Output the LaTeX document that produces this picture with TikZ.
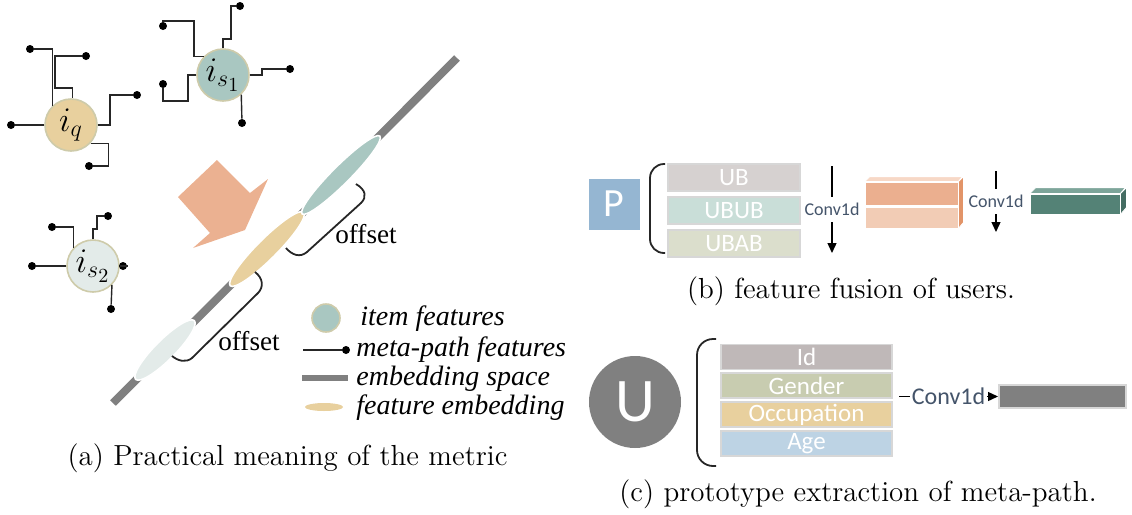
\documentclass[tikz,border=0pt]{standalone}
\usepackage{amsmath,amssymb}
\usepackage{fontspec}
\usepackage{tikz}
\usetikzlibrary{positioning}
\usetikzlibrary{shapes.geometric}
\usetikzlibrary{arrows.meta}
\newfontfamily\calibri{Carlito}
\newfontfamily\timesrm{Liberation Serif}

\definecolor{itemteal}{RGB}{169,199,193}
\definecolor{tanfill}{RGB}{232,208,158}
\definecolor{palefill}{RGB}{227,235,233}
\definecolor{rimcol}{RGB}{206,203,170}
\definecolor{salmon}{RGB}{235,177,145}
\definecolor{spacegray}{RGB}{128,128,128}
\definecolor{pblue}{RGB}{149,182,210}
\definecolor{ubfill}{RGB}{214,209,208}
\definecolor{ububfill}{RGB}{201,222,216}
\definecolor{ubabfill}{RGB}{219,222,204}
\definecolor{boxrim}{RGB}{215,215,215}
\definecolor{convtext}{RGB}{68,84,106}
\definecolor{peachdark}{RGB}{235,175,143}
\definecolor{peachlight}{RGB}{242,204,181}
\definecolor{peachtop}{RGB}{247,216,198}
\definecolor{peachside}{RGB}{226,148,104}
\definecolor{tealfront}{RGB}{84,130,118}
\definecolor{tealtop}{RGB}{125,165,154}
\definecolor{tealside}{RGB}{68,108,98}
\definecolor{idfill}{RGB}{191,184,184}
\definecolor{genderfill}{RGB}{200,204,176}
\definecolor{agefill}{RGB}{189,211,228}

\begin{document}
\begin{tikzpicture}[
      x=0.5pt,y=-0.5pt,
      item/.style={circle,draw=rimcol,line width=0.8pt,minimum size=26pt,inner sep=0pt,font=\fontsize{17.28}{17.28}\selectfont},
      mdot/.style={circle,fill=black,inner sep=0pt,minimum size=4pt},
      wire/.style={line width=0.7pt,black!85},
      embed/.style={ellipse,draw=white,line width=0.8pt,inner sep=0pt,rotate=45},
      brk/.style={line width=0.9pt,black!85},
      offlabel/.style={font=\timesrm\fontsize{13.6}{14}\selectfont},
      legend/.style={anchor=west,inner sep=0pt,font=\timesrm\itshape\fontsize{14}{14}\selectfont},
      caption/.style={font=\fontsize{14.5}{17}\selectfont},
      featbox/.style={draw=boxrim,line width=0.9pt,inner sep=0pt,text=white,font=\calibri\fontsize{12.5}{12.5}\selectfont},
      convlabel/.style={fill=white,text=convtext,inner xsep=1pt,inner ysep=3pt,font=\calibri\fontsize{9}{9}\selectfont},
      convarrow/.style={line width=0.7pt,-{Triangle[length=5pt,width=4.5pt]}},
      slab/.style={draw=white,line width=0.4pt,inner sep=0pt},
    ]
    \useasboundingbox (0,0) rectangle (1132,515);

    \node[item,fill=tanfill] (iq) at (71,125) {$i_q$};
    \node[item,fill=itemteal] (isa) at (223,75) {$i_{s_1}$};
    \node[item,fill=palefill] (isb) at (93,266) {$i_{s_2}$};

    \node[mdot] (qa) at (30,49) {};
    \node[mdot] (qb) at (86,56) {};
    \node[mdot] (qc) at (11,125) {};
    \node[mdot] (qd) at (137,95) {};
    \node[mdot] (qe) at (89,166) {};
    \node[mdot] (sa) at (163,26) {};
    \node[mdot] (sb) at (240,6) {};
    \node[mdot] (sc) at (290,69) {};
    \node[mdot] (sd) at (163,84) {};
    \node[mdot] (se) at (242,123) {};
    \node[mdot] (ta) at (52,227) {};
    \node[mdot] (tb) at (108,216) {};
    \node[mdot] (tc) at (32,266) {};
    \node[mdot] (td) at (123,266) {};
    \node[mdot] (te) at (111,309) {};

    \draw[wire] (iq.134) |- (qa);
    \draw[wire] (iq.87) |- (55,88) |- (qb);
    \draw[wire] (iq.west) -- (qc);
    \draw[wire] (iq.east) -| (110,95) -- (qd);
    \draw[wire] (iq.-43) -- ++(18,0) |- (qe);
    \draw[wire] (isa.136) -| (194,21) -| (sa);
    \draw[wire] (isa.north) |- (231,39) |- (sb);
    \draw[wire] (isa.east) -| (262,69) -- (sc);
    \draw[wire] (isa.west) -| (188,101) -| (sd);
    \draw[wire] (isa.-47) -- (se);
    \draw[wire] (isb.137) |- (ta);
    \draw[wire] (isb.north) |- (97,229) |- (tb);
    \draw[wire] (isb.west) -- (tc);
    \draw[wire] (isb.east) -- (td.center) -- ++(5,0);
    \draw[wire] (isb.-45) -- (te);

    \fill[salmon] (217,160) -- (250,193) -- (268,179) -- (245,230) -- (193,248) -- (210,233) -- (178,197) -- cycle;

    \coordinate (spacelo) at (113,403);
    \coordinate (spacehi) at (457,58);
    \draw[line width=4pt,spacegray] (spacelo) -- (spacehi);
    \node[embed,fill=palefill,minimum width=41.5pt,minimum height=10pt] (efa) at (165,350) {};
    \node[embed,fill=tanfill,minimum width=52pt,minimum height=10pt] (efb) at (267,249) {};
    \node[embed,fill=itemteal,minimum width=55pt,minimum height=9pt] (efc) at (341,175) {};

    \draw[brk] (356,184) .. controls (366,190) and (367,197) .. (361,203) -- (307,252) .. controls (300,258) and (292,255) .. (286,248);
    \draw[brk] (255,272) .. controls (263,278) and (264,287) .. (258,293) -- (192,358) .. controls (186,363) and (178,361) .. (172,356);
    \node[offlabel] (offa) at (366,234) {offset};
    \node[offlabel] (offb) at (249,341) {offset};

    \node[item,fill=itemteal,minimum size=14pt] (lgitem) at (326,318) {};
    \node[legend] at (360,319) {item features};
    \coordinate (lgstart) at (303,350);
    \node[mdot] (lgdot) at (346,350) {};
    \draw[wire] (lgstart) -- (lgdot);
    \node[legend] at (356,350) {meta-path features};
    \draw[line width=3pt,spacegray] (302,378) -- (348,378);
    \node[legend] at (356,379) {embedding space};
    \node[ellipse,fill=tanfill,inner sep=0pt,minimum width=19pt,minimum height=4pt] (lgemb) at (324,407) {};
    \node[legend] at (356,408) {feature embedding};

    \node[caption] at (287.5,458) {(a) Practical meaning of the metric};

    \node[fill=pblue,minimum size=25.5pt,inner sep=0pt,text=white,font=\calibri\fontsize{20}{20}\selectfont] (P) at (614,204) {P};
    \draw[brk,rounded corners=7pt] (665,164) -| (650,253) -- (665,253);
    \node[featbox,fill=ubfill,minimum width=66pt,minimum height=13.5pt] (ub) at (734,177.5) {UB};
    \node[featbox,fill=ububfill,minimum width=66pt,minimum height=13.5pt,below=2pt of ub] (ubub) {UBUB};
    \node[featbox,fill=ubabfill,minimum width=66pt,minimum height=13.5pt,below=2pt of ubub] (ubab) {UBAB};

    \coordinate (cva) at (832,166);
    \coordinate (cvb) at (832,253);
    \draw[convarrow] (cva) -- (cvb) node[convlabel,midway] {Conv1d};

    \node[slab,fill=peachdark,minimum width=46.5pt,minimum height=11.5pt] (oa) at (911.5,193.5) {};
    \node[slab,fill=peachlight,minimum width=46.5pt,minimum height=10.5pt] (ob) at (911.5,217.5) {};
    \filldraw[slab,fill=peachtop] (oa.north west) -- ++(5,-5) -- ++(93,0) -- (oa.north east) -- cycle;
    \filldraw[slab,fill=peachside] (oa.north east) -- ++(5,-5) -- ++(0,46) -- (ob.south east) -- cycle;

    \coordinate (cvc) at (996,171);
    \coordinate (cvd) at (996,232);
    \draw[convarrow] (cvc) -- (cvd) node[convlabel,midway] {Conv1d};

    \node[slab,fill=tealfront,minimum width=45pt,minimum height=10pt] (gr) at (1075,204) {};
    \filldraw[slab,fill=tealtop] (gr.north west) -- ++(6,-6) -- ++(90,0) -- (gr.north east) -- cycle;
    \filldraw[slab,fill=tealside] (gr.north east) -- ++(6,-6) -- ++(0,20) -- (gr.south east) -- cycle;

    \node[caption] at (851,291) {(b) feature fusion of users.};

    \node[circle,fill=spacegray,minimum size=46pt,inner sep=0pt,text=white,font=\calibri\fontsize{31}{31}\selectfont] (U) at (635,402) {U};
    \draw[brk,rounded corners=8pt] (716,339) -| (697,466) -- (716,466);
    \node[featbox,fill=idfill,minimum width=85.5pt,minimum height=12.5pt] (id) at (806.5,357) {Id};
    \node[featbox,fill=genderfill,minimum width=85.5pt,minimum height=12.5pt,below=1pt of id] (gender) {Gender};
    \node[featbox,fill=tanfill,minimum width=85.5pt,minimum height=12.5pt,below=1pt of gender] (occ) {Occupation};
    \node[featbox,fill=agefill,minimum width=85.5pt,minimum height=12.5pt,below=1pt of occ] (age) {Age};

    \node[draw=boxrim,line width=1pt,fill=spacegray,minimum width=63.5pt,minimum height=11.5pt,inner sep=0pt] (proto) at (1062.5,396.5) {};
    \coordinate (cve) at (899,396.5);
    \draw[convarrow] (cve) -- (proto.west) node[convlabel,midway,inner ysep=1pt,font=\calibri\fontsize{12}{12}\selectfont] {Conv1d};

    \node[caption] at (858,494) {(c) prototype extraction of meta-path.};
\end{tikzpicture}
\end{document}
